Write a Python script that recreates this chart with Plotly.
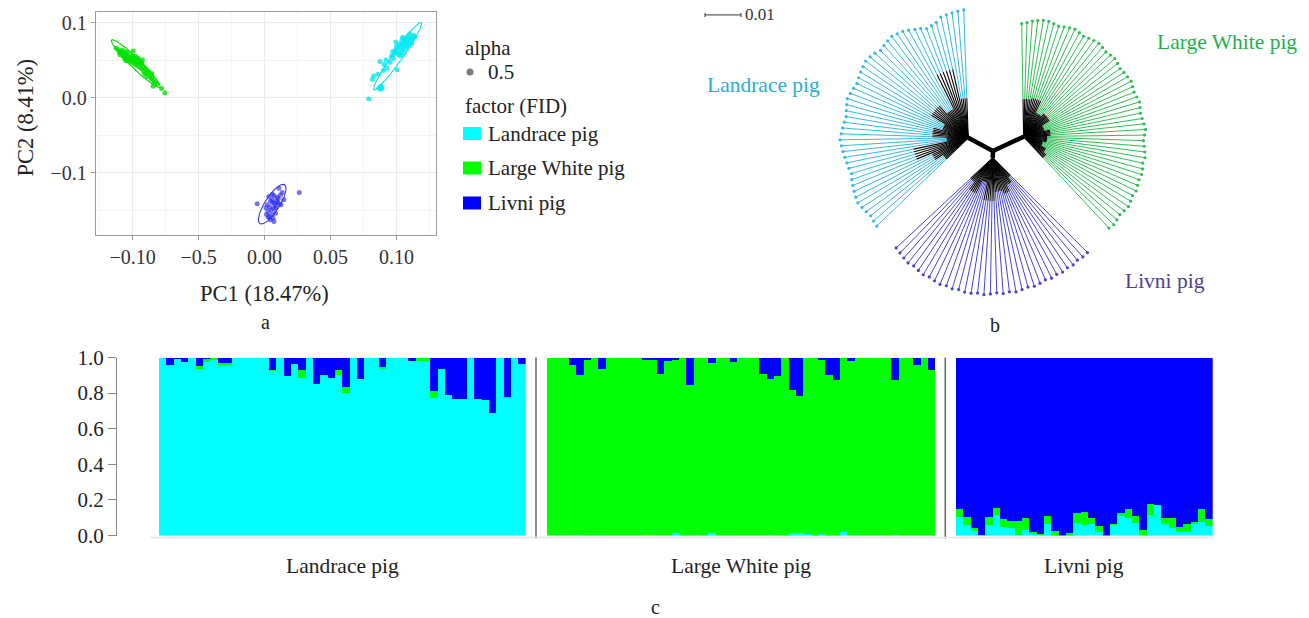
import numpy as np
import plotly.graph_objects as go

W, H = 1309, 618
SERIF = "Liberation Serif"


def px(x):
    return x / W


def py(y):
    return 1 - y / H


groups = ["Landrace pig", "Large White pig", "Livni pig"]
base_colors = ["#00FFFF", "#00FF00", "#0000FF"]
pca_point_colors = ["rgba(0,232,242,0.8)", "rgba(0,225,0,0.8)", "rgba(45,45,235,0.65)"]
pca_ellipse_colors = ["#00E2EC", "#00D800", "#3A3AD8"]
tree_line_colors = ["#35B9E2", "#2FBE55", "#4545D0"]
tree_text_colors = ["#2AAED6", "#22B04C", "#4B3F96"]

# ---------------- a: PCA ----------------
pc1_landrace = [0.0790, 0.0816, 0.0828, 0.0866, 0.0879, 0.0891, 0.0885, 0.0874, 0.0860, 0.0900,
                0.0929, 0.0905, 0.0920, 0.1005, 0.0950, 0.0960, 0.0975, 0.0985, 0.1000, 0.1018,
                0.0990, 0.1010, 0.1025, 0.1035, 0.1045, 0.1020, 0.1050, 0.1060, 0.1070, 0.1040,
                0.1080, 0.1090, 0.1065, 0.1100, 0.1110, 0.1085, 0.1120, 0.1130, 0.1100, 0.1140,
                0.1075, 0.1055, 0.1000, 0.0970, 0.1030, 0.1115, 0.1095, 0.1045, 0.0995, 0.1060]
pc2_landrace = [-0.002, 0.0244, 0.029, 0.012, 0.015, 0.014, 0.011, 0.048, 0.031, 0.036,
                0.039, 0.044, 0.050, 0.037, 0.047, 0.055, 0.052, 0.058, 0.060, 0.057,
                0.063, 0.066, 0.062, 0.068, 0.064, 0.071, 0.072, 0.069, 0.074, 0.076,
                0.071, 0.077, 0.079, 0.074, 0.080, 0.082, 0.077, 0.083, 0.085, 0.081,
                0.066, 0.060, 0.068, 0.061, 0.056, 0.072, 0.069, 0.080, 0.074, 0.077]

pc1_largewhite = [-0.1125, -0.1110, -0.1100, -0.1095, -0.1090, -0.1080, -0.1070, -0.1065, -0.1060, -0.1050,
                  -0.1050, -0.1040, -0.1035, -0.1030, -0.1020, -0.1015, -0.1010, -0.1000, -0.1000, -0.0995,
                  -0.0990, -0.0985, -0.0980, -0.0975, -0.0970, -0.0965, -0.0960, -0.0955, -0.0950, -0.0945,
                  -0.0940, -0.0935, -0.0930, -0.0920, -0.0915, -0.0910, -0.0900, -0.0895, -0.0890, -0.0880,
                  -0.0870, -0.0860, -0.0855, -0.0850, -0.0840, -0.0845, -0.0830, -0.0815, -0.0780, -0.0755,
                  -0.1075, -0.1045, -0.0925]
pc2_largewhite = [0.066, 0.064, 0.060, 0.057, 0.062, 0.058, 0.055, 0.060, 0.052, 0.056,
                  0.049, 0.053, 0.058, 0.050, 0.054, 0.047, 0.052, 0.056, 0.049, 0.062,
                  0.045, 0.052, 0.048, 0.055, 0.043, 0.050, 0.046, 0.052, 0.041, 0.048,
                  0.044, 0.039, 0.046, 0.036, 0.041, 0.031, 0.038, 0.033, 0.028, 0.035,
                  0.030, 0.025, 0.032, 0.027, 0.022, 0.015, 0.020, 0.018, 0.012, 0.006,
                  0.063, 0.061, 0.050]

pc1_livni = [-0.0056, 0.0263, 0.0109, 0.0134, 0.0146, 0.0071, 0.0020, 0.0033, 0.0045, 0.0071,
             0.0083, 0.0058, 0.0033, 0.0090, 0.0100, 0.0060, 0.0040, 0.0080, 0.0110, 0.0050,
             0.0025, 0.0070, 0.0095, 0.0120, 0.0015, 0.0055, 0.0065, 0.0030, 0.0105, 0.0075,
             0.0045, 0.0085, 0.0010, 0.0060, 0.0125]
pc2_livni = [-0.1418, -0.1267, -0.1209, -0.1267, -0.1364, -0.1311, -0.1431, -0.1587, -0.1631, -0.1653,
             -0.1542, -0.1364, -0.1320, -0.1380, -0.1400, -0.1400, -0.1460, -0.1440, -0.1420, -0.1500,
             -0.1520, -0.1480, -0.1330, -0.1300, -0.1560, -0.1560, -0.1610, -0.1600, -0.1350, -0.1410,
             -0.1380, -0.1470, -0.1470, -0.1290, -0.1430]

# ellipse: centre, semi-major vector, semi-minor vector (data units)
ellipse_center = [(0.1008, 0.0551), (-0.0976, 0.0453), (0.0058, -0.1422)]
ellipse_major = [(0.01795, 0.0449), (0.0183, -0.03155), (0.00934, 0.0260)]
ellipse_minor = [(0.0031, -0.0038), (0.00265, 0.00476), (0.0047, -0.00524)]

pc1_ticks = [-0.10, -0.05, 0.00, 0.05, 0.10]
pc1_ticklabels = ["\u22120.10", "\u22120.5", "0.00", "0.05", "0.10"]
pc1_minor = [-0.125, -0.075, -0.025, 0.025, 0.075, 0.125]
pc2_ticks = [-0.1, 0.0, 0.1]
pc2_ticklabels = ["\u22120.1", "0.0", "0.1"]
pc2_minor = [-0.15, -0.05, 0.05]

# ---------------- b: neighbour-joining tree ----------------
tree_scale = 0.01
tree_branch_len = [0.0078, 0.0094, 0.0019]      # root -> group node
tree_branch_angle = [152, 25, 268]
tree_arc = [(92, 224), (91, -47), (223, 315)]   # angular span of leaves
tree_clade_sizes = [[4, 6, 5, 7, 5, 6, 4, 5, 4, 4],
                    [5, 6, 5, 7, 6, 5, 6, 5, 4, 4],
                    [4, 5, 4, 6, 5, 4, 4, 3]]
# length of the shared (internal, black) part of each clade's branches
tree_clade_len = [[0.0110, 0.0195, 0.0090, 0.0120, 0.0075, 0.0100, 0.0060, 0.0155, 0.0110, 0.0085],
                  [0.0105, 0.0110, 0.0075, 0.0085, 0.0060, 0.0075, 0.0065, 0.0055, 0.0070, 0.0080],
                  [0.0085, 0.0110, 0.0070, 0.0120, 0.0095, 0.0105, 0.0085, 0.0070]]
tip_len_landrace = [0.0356, 0.0353, 0.0350, 0.0347, 0.0344, 0.0333, 0.0328, 0.0325, 0.0331, 0.0336,
                    0.0342, 0.0347, 0.0350, 0.0353, 0.0350, 0.0347, 0.0344, 0.0350, 0.0353, 0.0356,
                    0.0353, 0.0350, 0.0347, 0.0344, 0.0347, 0.0350, 0.0353, 0.0350, 0.0347, 0.0344,
                    0.0347, 0.0350, 0.0353, 0.0356, 0.0353, 0.0350, 0.0347, 0.0344, 0.0342, 0.0339,
                    0.0344, 0.0347, 0.0350, 0.0353, 0.0356, 0.0353, 0.0350, 0.0347, 0.0350, 0.0353]
tip_len_largewhite = [0.0314, 0.0317, 0.0322, 0.0325, 0.0328, 0.0328, 0.0325, 0.0322, 0.0325, 0.0328,
                      0.0331, 0.0328, 0.0325, 0.0328, 0.0331, 0.0333, 0.0331, 0.0328, 0.0331, 0.0333,
                      0.0331, 0.0328, 0.0331, 0.0333, 0.0336, 0.0333, 0.0331, 0.0333, 0.0336, 0.0333,
                      0.0331, 0.0333, 0.0336, 0.0339, 0.0336, 0.0333, 0.0336, 0.0339, 0.0342, 0.0339,
                      0.0342, 0.0344, 0.0342, 0.0344, 0.0347, 0.0344, 0.0347, 0.0350, 0.0347, 0.0344,
                      0.0347, 0.0350, 0.0347]
tip_len_livni = [0.0367, 0.0369, 0.0372, 0.0375, 0.0372, 0.0375, 0.0378, 0.0375, 0.0378, 0.0381,
                 0.0378, 0.0381, 0.0378, 0.0381, 0.0381, 0.0378, 0.0381, 0.0378, 0.0375, 0.0378,
                 0.0375, 0.0378, 0.0375, 0.0372, 0.0375, 0.0372, 0.0369, 0.0372, 0.0369, 0.0372,
                 0.0369, 0.0372, 0.0369, 0.0372, 0.0372]
tree_tip_len = [tip_len_landrace, tip_len_largewhite, tip_len_livni]

# ---------------- c: admixture (K=3) ----------------
# Landrace: green and blue ancestry (cyan = remainder)
landrace_green = [0, 0, 0, 0, 0, 0.015, 0.02, 0.01, 0.01, 0.005,
                  0, 0, 0, 0, 0, 0.005, 0, 0, 0, 0.045,
                  0, 0, 0, 0, 0.025, 0.034, 0, 0, 0, 0,
                  0.013, 0, 0, 0, 0, 0.015, 0.015, 0.037, 0, 0,
                  0, 0, 0, 0, 0, 0, 0, 0.005, 0, 0]
landrace_blue = [0, 0.037, 0.005, 0.02, 0, 0.045, 0.005, 0, 0.026, 0.03,
                 0, 0, 0, 0, 0, 0.065, 0, 0.10, 0.032, 0.07,
                 0, 0.144, 0.093, 0.11, 0.07, 0.163, 0, 0.12, 0, 0,
                 0.05, 0, 0, 0, 0.015, 0, 0, 0.187, 0.064, 0.21,
                 0.23, 0.228, 0, 0.228, 0.237, 0.31, 0, 0.218, 0, 0.032]
# Large White: cyan and blue ancestry (green = remainder)
largewhite_cyan = [0, 0, 0, 0.008, 0.008, 0, 0, 0, 0, 0,
                   0, 0, 0, 0.005, 0.005, 0, 0, 0.015, 0, 0,
                   0.005, 0, 0.015, 0, 0, 0, 0, 0, 0, 0,
                   0.008, 0, 0, 0.015, 0.015, 0.01, 0, 0.01, 0, 0,
                   0.025, 0, 0, 0, 0, 0, 0, 0.008, 0, 0,
                   0, 0, 0]
largewhite_blue = [0, 0, 0, 0.037, 0.097, 0.007, 0, 0.064, 0, 0,
                   0, 0, 0, 0.007, 0.013, 0.088, 0.019, 0.013, 0, 0.15,
                   0, 0, 0.026, 0, 0, 0.022, 0, 0, 0, 0.09,
                   0.116, 0.10, 0, 0.18, 0.215, 0, 0, 0.013, 0.093, 0.123,
                   0, 0.017, 0, 0, 0, 0, 0, 0.125, 0, 0,
                   0.037, 0, 0.07]
# Livni: cyan and green ancestry (blue = remainder)
livni_cyan = [0.108, 0.062, 0.028, 0.004, 0.062, 0.118, 0.052, 0.043, 0.006, 0.034,
              0.009, 0.006, 0.065, 0.002, 0, 0.002, 0.075, 0.062, 0.065, 0.024,
              0, 0.062, 0.112, 0.099, 0.071, 0, 0.118, 0.174, 0.065, 0.047,
              0.024, 0.021, 0.071, 0.077, 0.056]
livni_green = [0.042, 0.046, 0.019, 0.002, 0.046, 0.041, 0.043, 0.043, 0.080, 0.065,
               0.015, 0.005, 0.047, 0.028, 0, 0.013, 0.055, 0.071, 0.038, 0.032,
               0, 0.005, 0.018, 0.052, 0.043, 0.034, 0.061, 0, 0.038, 0.052,
               0.025, 0.046, 0.006, 0.073, 0.039]

struct_yticks = [0, 0.2, 0.4, 0.6, 0.8, 1.0]
struct_yticklabels = ["0.0", "0.2", "0.4", "0.6", "0.8", "1.0"]

fig = go.Figure()

# ---- PCA traces
pc1_all = [pc1_landrace, pc1_largewhite, pc1_livni]
pc2_all = [pc2_landrace, pc2_largewhite, pc2_livni]
t = np.linspace(0, 2 * np.pi, 240)
for g in range(3):
    cx, cy = ellipse_center[g]
    ax_, ay_ = ellipse_major[g]
    bx_, by_ = ellipse_minor[g]
    fig.add_trace(go.Scatter(
        x=cx + ax_ * np.cos(t) + bx_ * np.sin(t),
        y=cy + ay_ * np.cos(t) + by_ * np.sin(t),
        mode="lines", line=dict(color=pca_ellipse_colors[g], width=1.1),
        xaxis="x", yaxis="y", showlegend=False, hoverinfo="skip"))
    fig.add_trace(go.Scatter(
        x=pc1_all[g], y=pc2_all[g], mode="markers", name=groups[g],
        marker=dict(color=pca_point_colors[g], size=5, line=dict(width=0)),
        xaxis="x", yaxis="y", showlegend=False))

# ---- tree traces
def pol(r, deg):
    a = np.radians(deg)
    return r * np.cos(a), r * np.sin(a)

trunk_x, trunk_y, blk_x, blk_y = [], [], [], []
for g in range(3):
    hx, hy = pol(tree_branch_len[g], tree_branch_angle[g])
    # the root-to-group branch drawn as a bundle of slightly offset strands
    for off in (-0.00035, 0.0, 0.00035):
        ox, oy = pol(off, tree_branch_angle[g] + 90)
        trunk_x += [ox, hx + ox, None]
        trunk_y += [oy, hy + oy, None]
    tips = tree_tip_len[g]
    n = len(tips)
    angs = np.linspace(tree_arc[g][0], tree_arc[g][1], n)
    col_x, col_y, tx, ty = [], [], [], []
    k = 0
    for size, L in zip(tree_clade_sizes[g], tree_clade_len[g]):
        for i in range(k, k + size):
            ex, ey = pol(tips[i], angs[i])
            bx, by = pol(L, angs[i])
            tx.append(hx + ex)
            ty.append(hy + ey)
            blk_x += [hx, hx + bx, None]
            blk_y += [hy, hy + by, None]
            col_x += [hx + bx, hx + ex, None]
            col_y += [hy + by, hy + ey, None]
        k += size
    fig.add_trace(go.Scatter(x=col_x, y=col_y, mode="lines",
                             line=dict(color=tree_line_colors[g], width=1),
                             xaxis="x2", yaxis="y2", showlegend=False, hoverinfo="skip"))
    fig.add_trace(go.Scatter(x=tx, y=ty, mode="markers", name=groups[g],
                             marker=dict(color=tree_line_colors[g], size=3.2),
                             xaxis="x2", yaxis="y2", showlegend=False))
fig.add_trace(go.Scatter(x=blk_x, y=blk_y, mode="lines", line=dict(color="black", width=1.1),
                         xaxis="x2", yaxis="y2", showlegend=False, hoverinfo="skip"))
fig.add_trace(go.Scatter(x=trunk_x, y=trunk_y, mode="lines", line=dict(color="black", width=2),
                         xaxis="x2", yaxis="y2", showlegend=False, hoverinfo="skip"))
# scale bar
sb_x0, sb_y = -0.0800, 0.0378
fig.add_trace(go.Scatter(x=[sb_x0, sb_x0 + tree_scale], y=[sb_y, sb_y], mode="lines",
                         line=dict(color="#333", width=1), xaxis="x2", yaxis="y2",
                         showlegend=False, hoverinfo="skip"))

# ---- structure bars
comp_landrace = [[1 - a - b for a, b in zip(landrace_green, landrace_blue)], landrace_green, landrace_blue]
comp_largewhite = [largewhite_cyan, [1 - a - b for a, b in zip(largewhite_cyan, largewhite_blue)], largewhite_blue]
comp_livni = [livni_cyan, livni_green, [1 - a - b for a, b in zip(livni_cyan, livni_green)]]
for comps, xa in [(comp_landrace, "x3"), (comp_largewhite, "x4"), (comp_livni, "x5")]:
    n = len(comps[0])
    for k in range(3):
        fig.add_trace(go.Bar(x=list(range(n)), y=comps[k],
                             marker=dict(color=base_colors[k], line=dict(width=0)),
                             xaxis=xa, yaxis="y3", showlegend=False, width=1.0))

# ---- layout
tick_font = dict(family=SERIF, size=20, color="#333333")
bar_w = (525.7 - 159) / 50
layout = dict(
    width=W, height=H, margin=dict(l=0, r=0, t=0, b=0, pad=0, autoexpand=False),
    paper_bgcolor="white", plot_bgcolor="white", font=dict(family=SERIF),
    barmode="stack", bargap=0, showlegend=False,
    xaxis=dict(domain=[px(96), px(436)], range=[-0.1277, 0.1299], anchor="y", automargin=False,
               tickvals=pc1_ticks, ticktext=pc1_ticklabels, tickfont=tick_font,
               showgrid=True, gridcolor="#EBEBEB", gridwidth=1.2, zeroline=False,
               minor=dict(tickvals=pc1_minor, showgrid=True, gridcolor="#F5F5F5", gridwidth=0.8),
               showline=True, mirror=True, linecolor="#9A9A9A", linewidth=1.3,
               ticks="outside", ticklen=4, tickcolor="#9A9A9A"),
    yaxis=dict(domain=[py(235), py(12)], range=[-0.1833, 0.114], anchor="x", automargin=False,
               tickvals=pc2_ticks, ticktext=pc2_ticklabels, tickfont=tick_font,
               showgrid=True, gridcolor="#EBEBEB", gridwidth=1.2, zeroline=False,
               minor=dict(tickvals=pc2_minor, showgrid=True, gridcolor="#F5F5F5", gridwidth=0.8),
               showline=True, mirror=True, linecolor="#9A9A9A", linewidth=1.3,
               ticks="outside", ticklen=4, tickcolor="#9A9A9A"),
    xaxis2=dict(domain=[px(690), 1.0], range=[(690 - 993) / 3600, (1309 - 993) / 3600],
                anchor="y2", visible=False, fixedrange=True, automargin=False),
    yaxis2=dict(domain=[py(310), 1.0], range=[(151 - 310) / 3600, 151 / 3600],
                anchor="x2", visible=False, fixedrange=True, automargin=False),
    xaxis3=dict(domain=[px(117), px(525.7)], range=[-0.5 - (159 - 117) / bar_w, 49.5], anchor="y3",
                visible=False, automargin=False),
    xaxis4=dict(domain=[px(546.7), px(935)], range=[-0.5, 52.5], anchor="y3", visible=False,
                automargin=False),
    xaxis5=dict(domain=[px(956), px(1212.7)], range=[-0.5, 34.5], anchor="y3", visible=False,
                automargin=False),
    yaxis3=dict(domain=[py(535.5), py(357.5)], range=[0, 1], anchor="x3", automargin=False,
                tickvals=struct_yticks, ticktext=struct_yticklabels,
                tickfont=dict(family=SERIF, size=21, color="#222"),
                showgrid=False, zeroline=False, showline=True, linecolor="#888", linewidth=1,
                ticks="outside", ticklen=8, tickcolor="#888"),
)
fig.update_layout(**layout)

shapes = []
# structure separators and baseline
for xs in (536, 945.3):
    shapes.append(dict(type="line", xref="paper", yref="paper", x0=px(xs), x1=px(xs),
                       y0=py(538.5), y1=py(357.5), line=dict(color="#666", width=1.5)))
shapes.append(dict(type="line", xref="paper", yref="paper", x0=px(150), x1=px(1214),
                   y0=py(537.5), y1=py(537.5), line=dict(color="#E4E4E4", width=1.5)))
# legend swatches
for i, yc in enumerate([133.5, 168, 203]):
    shapes.append(dict(type="rect", xref="paper", yref="paper", x0=px(463), x1=px(481),
                       y0=py(yc + 6.5), y1=py(yc - 6.5), fillcolor=base_colors[i], line=dict(width=0)))
shapes.append(dict(type="circle", xref="paper", yref="paper", x0=px(466.5), x1=px(473.5),
                   y0=py(75.5), y1=py(68.5), fillcolor="#7A7A7A", line=dict(width=0)))
# scale bar end caps
for xe in (705, 741):
    shapes.append(dict(type="line", xref="paper", yref="paper", x0=px(xe), x1=px(xe),
                       y0=py(17), y1=py(13), line=dict(color="#333", width=1)))
fig.update_layout(shapes=shapes)

ann = []


def A(text, x, y, size, color="#222", xanchor="center", angle=0):
    ann.append(dict(text=text, x=px(x), y=py(y), xref="paper", yref="paper", showarrow=False,
                    xanchor=xanchor, yanchor="middle", textangle=angle,
                    font=dict(family=SERIF, size=size, color=color)))


A("PC1 (18.47%)", 264.5, 293, 22.5)
A("PC2 (8.41%)", 25, 117.5, 22.5, angle=-90)
A("alpha", 463, 48, 21, xanchor="left")
A("0.5", 486, 72, 21, xanchor="left")
A("factor (FID)", 463, 106, 21, xanchor="left")
for i, yc in enumerate([133.5, 168, 203]):
    A(groups[i], 486, yc, 21, xanchor="left")
A("a", 265, 322, 20)
A("b", 995, 325, 20)
A("c", 655, 607, 20)
A("0.01", 743, 15, 17, color="#333", xanchor="left")
A(groups[0], 705, 85, 21.5, color=tree_text_colors[0], xanchor="left")
A(groups[1], 1155, 42, 21.5, color=tree_text_colors[1], xanchor="left")
A(groups[2], 1123, 281, 21.5, color=tree_text_colors[2], xanchor="left")
A(groups[0], 342.5, 566, 21.5)
A(groups[1], 741, 566, 21.5)
A(groups[2], 1084, 566, 21.5)
fig.update_layout(annotations=ann)

fig.write_html("out.html")
